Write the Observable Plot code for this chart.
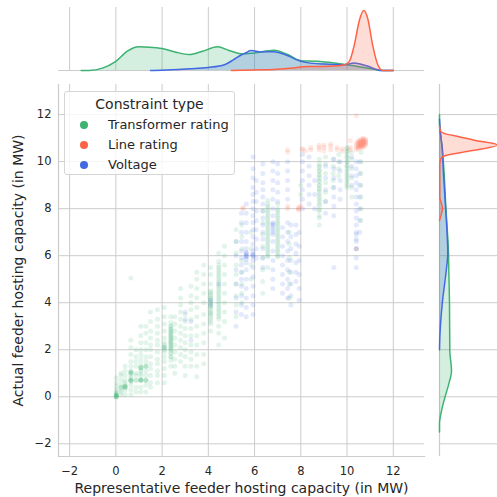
<!DOCTYPE html>
<html>
<head>
<meta charset="utf-8">
<script src="https://cdn.jsdelivr.net/npm/d3@7"></script>
<script src="https://cdn.jsdelivr.net/npm/@observablehq/plot@0.6"></script>
<style>
  html, body { margin: 0; padding: 0; background: white; }
  #wrap { position: relative; width: 497px; height: 497px; overflow: hidden; font-family: 'DejaVu Sans', sans-serif; }
  #wrap > svg { position: absolute; }
  #legend { position: absolute; left: 64px; top: 91px; width: 171px; height: 84px; box-sizing: border-box;
    border: 1px solid #d6d6d6; border-radius: 3px; background: rgba(255,255,255,0.8); color: #262626; }
  #legend .title { text-align: center; font-size: 14px; margin-top: 2px; height: 21px; line-height: 21px; }
  #legend .item { position: relative; height: 20px; line-height: 20px; font-size: 13px; }
  #legend .dot { position: absolute; left: 15px; top: 6px; width: 8px; height: 8px; border-radius: 50%; }
  #legend .lab { position: absolute; left: 43px; top: 0; white-space: nowrap; }
</style>
</head>
<body>
<div id="wrap"></div>
<script>
// ---- categories, colours, ticks ----
const types = ["Transformer rating", "Line rating", "Voltage"];
const typeColors = ["#3cb371", "#ff6347", "#4169e1"];
const xTicks = [-2, 0, 2, 4, 6, 8, 10, 12];
const yTicks = [-2, 0, 2, 4, 6, 8, 10, 12];
const xLabel = "Representative feeder hosting capacity (in MW)";
const yLabel = "Actual feeder hosting capacity (in MW)";
const legendTitle = "Constraint type";

// ---- scatter: columns of [representative x, list of actual y] ----
const transformerCols = [
  [0.02, [0, 0, 0, 0.05, 0.1, 0.15, 0.2, 0.3, 0.45, 0.6, 0.8]],
  [0.22, [0.1, 0.2, 0.3, 0.4, 0.4, 0.5, 0.7, 0.9, 1.0]],
  [0.4, [0.1, 0.3, 0.4, 0.4, 0.45, 0.6, 0.7, 0.9, 1.1, 1.3]],
  [0.65, [0.1, 0.3, 0.5, 0.7, 0.7, 0.7, 0.8, 0.9, 1.0, 1.05, 1.1, 1.3, 1.5, 1.8, 2.1, 2.4, 5.05]],
  [0.87, [0.2, 0.4, 0.7, 0.7, 0.9, 1.0, 1.3, 1.5, 1.7, 2.0]],
  [1.08, [0.2, 0.4, 0.7, 0.7, 0.7, 0.9, 1.0, 1.1, 1.25, 1.25, 1.4, 1.6, 1.8, 2.0, 2.3, 2.6, 3.0]],
  [1.3, [0.2, 0.5, 0.7, 0.7, 0.9, 1.1, 1.3, 1.3, 1.5, 1.7, 2.0, 2.3, 2.7, 3.0]],
  [1.5, [0.4, 0.6, 0.9, 1.2, 1.4, 1.7, 2.0, 2.2, 2.5, 2.8, 3.2, 3.6]],
  [1.8, [0.6, 0.9, 1.1, 1.4, 1.6, 1.9, 2.2, 2.4, 2.7, 3.0, 3.3, 3.7]],
  [2.1, [0.6, 0.9, 1.2, 1.5, 1.7, 1.9, 2.1, 2.1, 2.3, 2.5, 2.8, 3.1, 3.4, 3.8]],
  [2.38, [1.3, 1.55, 1.7, 1.85, 2.0, 2.1, 2.2, 2.3, 2.4, 2.5, 2.6, 2.7, 2.8, 2.9, 3.0, 3.15, 3.4]],
  [2.55, [1.0, 1.3, 1.6, 1.9, 2.2, 2.5, 2.8, 3.1, 3.4]],
  [2.8, [1.5, 1.8, 2.1, 2.4, 2.7, 3.0, 3.3, 3.6, 3.9, 4.2, 4.6]],
  [3.0, [0.9, 1.3, 1.7, 2.0, 2.3, 2.6, 2.9, 3.2, 3.5]],
  [3.25, [1.3, 1.6, 1.9, 2.2, 2.6, 2.9, 3.3, 3.7, 4.0, 4.3, 4.7]],
  [3.5, [0.85, 1.3, 1.8, 2.2, 2.6, 3.0, 3.4, 3.8, 4.2, 4.6, 5.0, 5.3]],
  [3.8, [1.4, 1.8, 2.3, 2.7, 3.1, 3.5, 4.0, 4.4, 4.8, 5.2, 5.6]],
  [4.1, [2.8, 3.1, 3.3, 3.5, 3.6, 3.8, 3.9, 4.0, 4.1, 4.2, 4.35, 4.5, 4.8, 5.2, 5.5]],
  [4.45, [2.2, 2.7, 3.0, 3.3, 3.5, 3.7, 3.9, 4.1, 4.3, 4.5, 4.7, 4.9, 5.1, 5.3, 5.5, 5.75, 6.1]],
  [4.7, [2.5, 3.2, 3.6, 4.0, 4.4, 4.8, 5.2, 5.6, 6.0, 6.4]],
  [5.2, [3.4, 3.9, 4.3, 4.8, 5.2, 5.6, 6.1, 6.6, 7.1]],
  [5.45, [4.0, 4.4, 4.8, 5.3, 5.8, 6.3, 6.8, 7.3]],
  [5.85, [5.0, 5.6, 6.3, 7.0]],
  [6.35, [4.4, 4.9, 5.4, 5.9, 6.4, 6.9, 7.4, 7.9]],
  [6.57, [5.5, 5.95, 6.1, 6.3, 6.5, 6.7, 6.9, 7.1, 7.3, 7.5, 7.7, 7.9, 8.1, 8.35]],
  [7.0, [5.95, 6.1, 6.3, 6.5, 6.7, 6.9, 7.1, 7.3, 7.5, 7.7, 7.9, 8.2]],
  [7.5, [4.2, 4.8, 5.3, 5.9, 6.5, 7.0]],
  [8.0, [8.6, 9.0]],
  [8.8, [7.3, 7.6, 7.9, 8.1, 8.3, 8.5, 8.7, 8.85, 9.0, 9.15, 9.3, 9.45, 9.6, 9.75, 9.9, 10.1]],
  [9.07, [8.3, 8.7, 9.1, 9.5, 9.9, 10.2]],
  [9.4, [8.9, 9.2, 9.5, 9.8, 10.1]],
  [9.64, [9.4, 9.7, 10.0, 10.3]],
  [10.0, [8.9, 9.1, 9.3, 9.5, 9.7, 9.85, 10.0, 10.15, 10.3, 10.45, 10.6]],
  [10.2, [8.5, 8.9, 9.3, 9.7, 10.1, 10.4]],
  [10.6, [7.5, 8.0, 8.5, 9.0, 9.5, 10.0, 10.4]]
];
// the darkest (most crowded) transformer stacks, read as extra points on top of the above
const transformerDenseCols = [
  [0.02, [0.0, 0.05, 0.1]],
  [0.4, [0.4, 0.45, 0.5]],
  [0.65, [0.65, 0.7, 1.0, 1.05]],
  [1.08, [0.7, 0.75, 1.2, 1.25]],
  [1.3, [0.7, 1.3]],
  [2.1, [2.0, 2.1, 2.2]],
  [2.38, [1.7, 1.9, 2.05, 2.15, 2.25, 2.35, 2.45, 2.55, 2.65, 2.75, 2.85, 3.0]],
  [4.1, [3.2, 3.4, 3.55, 3.7, 3.85, 4.0, 4.15, 4.3, 4.45]],
  [4.45, [3.4, 3.6, 3.8, 4.0, 4.2, 4.4, 4.6, 4.8, 5.0, 5.2, 5.4, 5.6]],
  [6.57, [6.0, 6.2, 6.4, 6.6, 6.8, 7.0, 7.2, 7.4, 7.6, 7.8, 8.0, 8.2]],
  [7.0, [6.0, 6.2, 6.4, 6.6, 6.8, 7.0, 7.2, 7.4, 7.6, 7.8, 8.0]],
  [8.8, [7.7, 7.95, 8.2, 8.4, 8.6, 8.8, 9.0, 9.2, 9.4, 9.6, 9.8]],
  [10.0, [9.0, 9.2, 9.4, 9.6, 9.8, 10.0, 10.2, 10.4, 10.55]]
];
const voltageCols = [
  [3.0, [3.3, 3.6]],
  [3.25, [2.4, 3.2]],
  [4.1, [3.9, 4.1]],
  [4.45, [4.8]],
  [5.2, [3.0, 3.6, 4.2, 4.8, 5.4, 6.0, 6.6]],
  [5.43, [3.5, 3.9, 4.3, 4.7, 5.0, 5.3, 5.6, 5.9, 6.2, 6.6, 7.0, 7.4, 7.8]],
  [5.64, [3.4, 3.8, 4.2, 4.6, 5.0, 5.4, 5.7, 5.95, 6.0, 6.1, 6.3, 6.6, 7.0, 7.4, 7.8, 8.2]],
  [5.93, [3.5, 3.9, 4.3, 4.7, 5.1, 5.5, 5.8, 6.0, 6.05, 6.2, 6.5, 6.8, 7.1, 7.4, 7.7, 8.0, 8.3, 8.6, 8.9, 9.3, 9.7, 10.2]],
  [6.07, [5.9, 6.3, 6.7, 7.1, 7.5, 7.9, 8.3, 8.7, 9.2]],
  [6.36, [5.5, 5.9, 6.3, 6.7, 7.0, 7.3, 7.6, 7.9, 8.2, 8.5, 8.8, 9.1, 9.5, 9.9]],
  [6.79, [4.6, 5.0, 5.4, 5.8, 6.2, 6.6, 6.9, 7.1, 7.3, 7.4, 7.7, 8.0, 8.4, 8.8, 9.2, 9.6, 10.0]],
  [7.0, [8.3, 8.7, 9.1, 9.5, 9.9]],
  [7.21, [4.4, 4.8, 5.2, 5.6, 6.0, 6.4, 6.8, 7.2]],
  [7.43, [4.2, 4.6, 5.0, 5.4, 5.8, 6.2, 6.6, 7.0, 7.4, 8.4, 8.8, 9.2, 9.6, 10.0]],
  [7.57, [3.9, 4.3, 4.8, 5.3, 5.8, 6.3, 6.8, 7.3]],
  [7.79, [4.9, 5.3, 5.7, 6.1, 6.5, 6.9, 7.3]],
  [7.93, [4.1, 4.6, 5.2, 5.8, 6.4, 7.0]],
  [8.07, [8.0, 8.4, 8.8, 9.2, 9.6, 10.0, 10.3]],
  [8.36, [8.2, 8.6, 9.0, 9.4, 9.8, 10.2]],
  [8.6, [8.0, 8.6, 9.2]],
  [9.07, [7.8, 8.3, 8.8, 9.3, 9.8]],
  [9.43, [5.5, 7.7, 8.1, 8.5, 8.9, 9.3, 9.7, 10.1]],
  [9.7, [8.4, 8.8, 9.2, 9.6, 10.0]],
  [10.2, [9.0, 9.4, 9.8, 10.2]],
  [10.4, [5.5, 5.9, 6.3, 6.7, 7.0, 7.3, 7.6, 7.9, 8.2, 8.5, 8.8, 9.1, 9.4, 9.7, 10.0]],
  [10.55, [7.0, 7.5, 8.0, 8.5, 9.0, 9.5, 10.0]]
];
const voltageDenseCols = [
  [5.64, [5.85, 5.95, 6.05, 6.15]],
  [5.93, [5.95, 6.05]],
  [6.79, [7.0, 7.2, 7.35]],
  [10.4, [6.3, 6.6, 6.9]]
];
const lineCols = [
  [5.5, [8.0, 8.05]],
  [7.43, [8.0, 8.1, 10.4, 10.5]],
  [7.9, [7.95, 8.0, 8.05]],
  [8.0, [8.1]],
  [8.07, [10.5, 10.55]],
  [8.2, [10.45]],
  [8.43, [10.5, 10.6]],
  [8.79, [10.5, 10.6, 10.7]],
  [9.0, [10.45, 10.6, 10.7]],
  [9.29, [10.5, 10.65, 10.75]],
  [9.57, [10.5, 10.6]],
  [9.79, [10.45, 10.55]],
  [10.14, [10.5, 10.6, 10.9]],
  [10.4, [6.3, 10.5, 10.6, 10.7, 10.8, 11.95]],
  [10.5, [10.55, 10.6, 10.65, 10.7, 10.75, 10.8, 10.85, 10.9]],
  [10.6, [10.6, 10.65, 10.7, 10.75, 10.8, 10.85, 10.9, 10.95]],
  [10.7, [10.6, 10.65, 10.7, 10.75, 10.8, 10.85, 10.9, 10.95, 11.0]],
  [10.8, [10.7, 10.75, 10.8, 10.85, 10.9, 10.95]]
];

// ---- marginal densities (arbitrary density units) ----
const topTransformerX = [-1.5, -1.16, -0.58, 0, 0.5, 1.0, 1.44, 2.0, 2.6, 3.17, 3.75, 4.4, 4.9, 5.5, 5.99, 6.85, 7.43, 8.0, 8.73, 9.45, 10.2, 10.9, 11.5, 12];
const topTransformerD = [0, 0, 2.3, 9, 19, 23.3, 23, 21.7, 18, 15.7, 19, 23.3, 19.7, 16.2, 17.3, 20, 15.7, 9.7, 9, 7.3, 5, 2.3, 0, 0];
const topVoltageX = [1.5, 2.0, 3.2, 4.0, 4.7, 5.1, 5.4, 5.63, 5.85, 6.28, 6.8, 7.1, 7.5, 7.8, 8.2, 9.0, 9.9, 10.3, 10.8, 11.5, 12];
const topVoltageD = [0, 0.2, 1.7, 3, 5.7, 10.7, 15, 17.5, 19.7, 18.3, 18.5, 17.3, 14, 10.7, 8, 6.3, 5.7, 7.3, 5, 0, 0];
const topLineX = [5.0, 6.0, 6.85, 7.57, 8.3, 8.87, 9.6, 9.9, 10.1, 10.32, 10.53, 10.72, 10.9, 11.1, 11.33, 11.55, 12];
const topLineD = [0, 0.5, 1, 2.3, 4, 4, 4.7, 5.7, 9, 25.7, 49, 59, 50.7, 25.7, 5.7, 0, 0];

const rightTransformerY = [-1.5, -1.15, -0.6, -0.04, 0.55, 1.1, 1.96, 3.95, 5.36, 6.1, 8.1, 9.9, 11.0, 11.6, 12];
const rightTransformerD = [0, 0, 2, 5.3, 9.3, 12, 10.3, 10, 9.3, 9, 6.3, 4, 1.5, 0, 0];
const rightVoltageY = [2.0, 2.5, 3.95, 5.36, 6.1, 7.0, 8.1, 9.9, 10.5, 11.2, 11.8];
const rightVoltageD = [0, 0.3, 2.7, 6.7, 8.3, 7.5, 6, 3.5, 3, 1, 0];
const rightLineY = [7.5, 7.8, 8.0, 8.2, 8.5, 9.9, 10.15, 10.26, 10.47, 10.71, 10.9, 11.06, 11.2, 11.3, 11.5];
const rightLineD = [0, 2, 3, 2, 0.3, 0.3, 1.5, 6, 33, 58, 36, 19.6, 4.6, 1, 0];

// ---- build tables ----
const rows = [];
for (const [t, cols] of [
  [types[0], transformerCols], [types[0], transformerDenseCols],
  [types[2], voltageCols], [types[2], voltageDenseCols],
  [types[1], lineCols]]) {
  for (const [x, ys] of cols) for (const y of ys) rows.push({x, y, type: t});
}
const zipTop = (xs, ds, t) => xs.map((x, i) => ({x, d: ds[i], type: t}));
const zipRight = (ys, ds, t) => ys.map((y, i) => ({y, d: ds[i], type: t}));
const topSeries = [
  zipTop(topTransformerX, topTransformerD, types[0]),
  zipTop(topVoltageX, topVoltageD, types[2]),
  zipTop(topLineX, topLineD, types[1])
];
const rightSeries = [
  zipRight(rightTransformerY, rightTransformerD, types[0]),
  zipRight(rightVoltageY, rightVoltageD, types[2]),
  zipRight(rightLineY, rightLineD, types[1])
];

const xDomain = [-2.48, 13.35];
const yDomain = [-2.54, 13.28];
const gridColor = "#cccccc";
const fmt = d => d < 0 ? "\u2212" + Math.abs(d) : String(d);
const colorScale = {domain: types, range: typeColors};
const baseStyle = {fontFamily: "'DejaVu Sans', sans-serif", fontSize: "11.5px", color: "#262626", background: "transparent", overflow: "visible"};

const main = Plot.plot({
  width: 497, height: 497,
  marginLeft: 58, marginRight: 73, marginTop: 84, marginBottom: 41,
  style: {...baseStyle, background: "white"},
  x: {domain: xDomain},
  y: {domain: yDomain},
  color: colorScale,
  marks: [
    Plot.gridX(xTicks, {stroke: gridColor, strokeOpacity: 1, strokeWidth: 1}),
    Plot.gridY(yTicks, {stroke: gridColor, strokeOpacity: 1, strokeWidth: 1}),
    Plot.frame({anchor: "left", stroke: gridColor, strokeWidth: 1.2}),
    Plot.frame({anchor: "bottom", stroke: gridColor, strokeWidth: 1.2}),
    Plot.dot(rows, {x: "x", y: "y", fill: "type", r: 2.5, fillOpacity: 0.14}),
    Plot.axisX(xTicks, {tickSize: 0, tickPadding: 10, tickFormat: fmt, label: null}),
    Plot.axisY(yTicks, {tickSize: 0, tickPadding: 7, tickFormat: fmt, label: null}),
    Plot.text([xLabel], {frameAnchor: "bottom", dy: 32, fontSize: 14, textAnchor: "middle", lineAnchor: "middle", fill: "#262626"}),
    Plot.text([yLabel], {frameAnchor: "left", dx: -40, rotate: -90, fontSize: 14, textAnchor: "middle", lineAnchor: "middle", fill: "#262626"})
  ]
});

const topMarks = [
  Plot.gridX(xTicks, {stroke: gridColor, strokeOpacity: 1, strokeWidth: 1}),
  Plot.ruleY([0], {stroke: gridColor, strokeWidth: 1.2})
];
for (const s of topSeries) {
  topMarks.push(Plot.areaY(s, {x: "x", y: "d", fill: "type", fillOpacity: 0.22, curve: "monotone-x"}));
  topMarks.push(Plot.lineY(s, {x: "x", y: "d", stroke: "type", strokeWidth: 1.5, curve: "monotone-x"}));
}
const topPlot = Plot.plot({
  width: 497, height: 84,
  marginLeft: 58, marginRight: 73, marginTop: 7, marginBottom: 14,
  style: baseStyle,
  x: {domain: xDomain, axis: null},
  y: {domain: [0, 62], axis: null},
  color: colorScale,
  marks: topMarks
});

const rightMarks = [
  Plot.gridY(yTicks, {stroke: gridColor, strokeOpacity: 1, strokeWidth: 1}),
  Plot.ruleX([0], {stroke: gridColor, strokeWidth: 1.2})
];
for (const s of rightSeries) {
  rightMarks.push(Plot.areaX(s, {y: "y", x: "d", fill: "type", fillOpacity: 0.22, curve: "monotone-y"}));
  rightMarks.push(Plot.lineX(s, {y: "y", x: "d", stroke: "type", strokeWidth: 1.5, curve: "monotone-y"}));
}
const rightPlot = Plot.plot({
  width: 67, height: 497,
  marginLeft: 9, marginRight: 0, marginTop: 84, marginBottom: 41,
  style: baseStyle,
  x: {domain: [0, 58], axis: null},
  y: {domain: yDomain, axis: null},
  color: colorScale,
  marks: rightMarks
});

const wrap = document.getElementById("wrap");
main.style.left = "0px"; main.style.top = "0px";
topPlot.style.left = "0px"; topPlot.style.top = "0px";
rightPlot.style.left = "430px"; rightPlot.style.top = "0px";
wrap.appendChild(main);
wrap.appendChild(topPlot);
wrap.appendChild(rightPlot);

// legend built from the category arrays
const legend = document.createElement("div");
legend.id = "legend";
const title = document.createElement("div");
title.className = "title";
title.textContent = legendTitle;
legend.appendChild(title);
types.forEach((t, i) => {
  const item = document.createElement("div");
  item.className = "item";
  const dot = document.createElement("span");
  dot.className = "dot";
  dot.style.background = typeColors[i];
  const lab = document.createElement("span");
  lab.className = "lab";
  lab.textContent = t;
  item.appendChild(dot);
  item.appendChild(lab);
  legend.appendChild(item);
});
wrap.appendChild(legend);
</script>
</body>
</html>
